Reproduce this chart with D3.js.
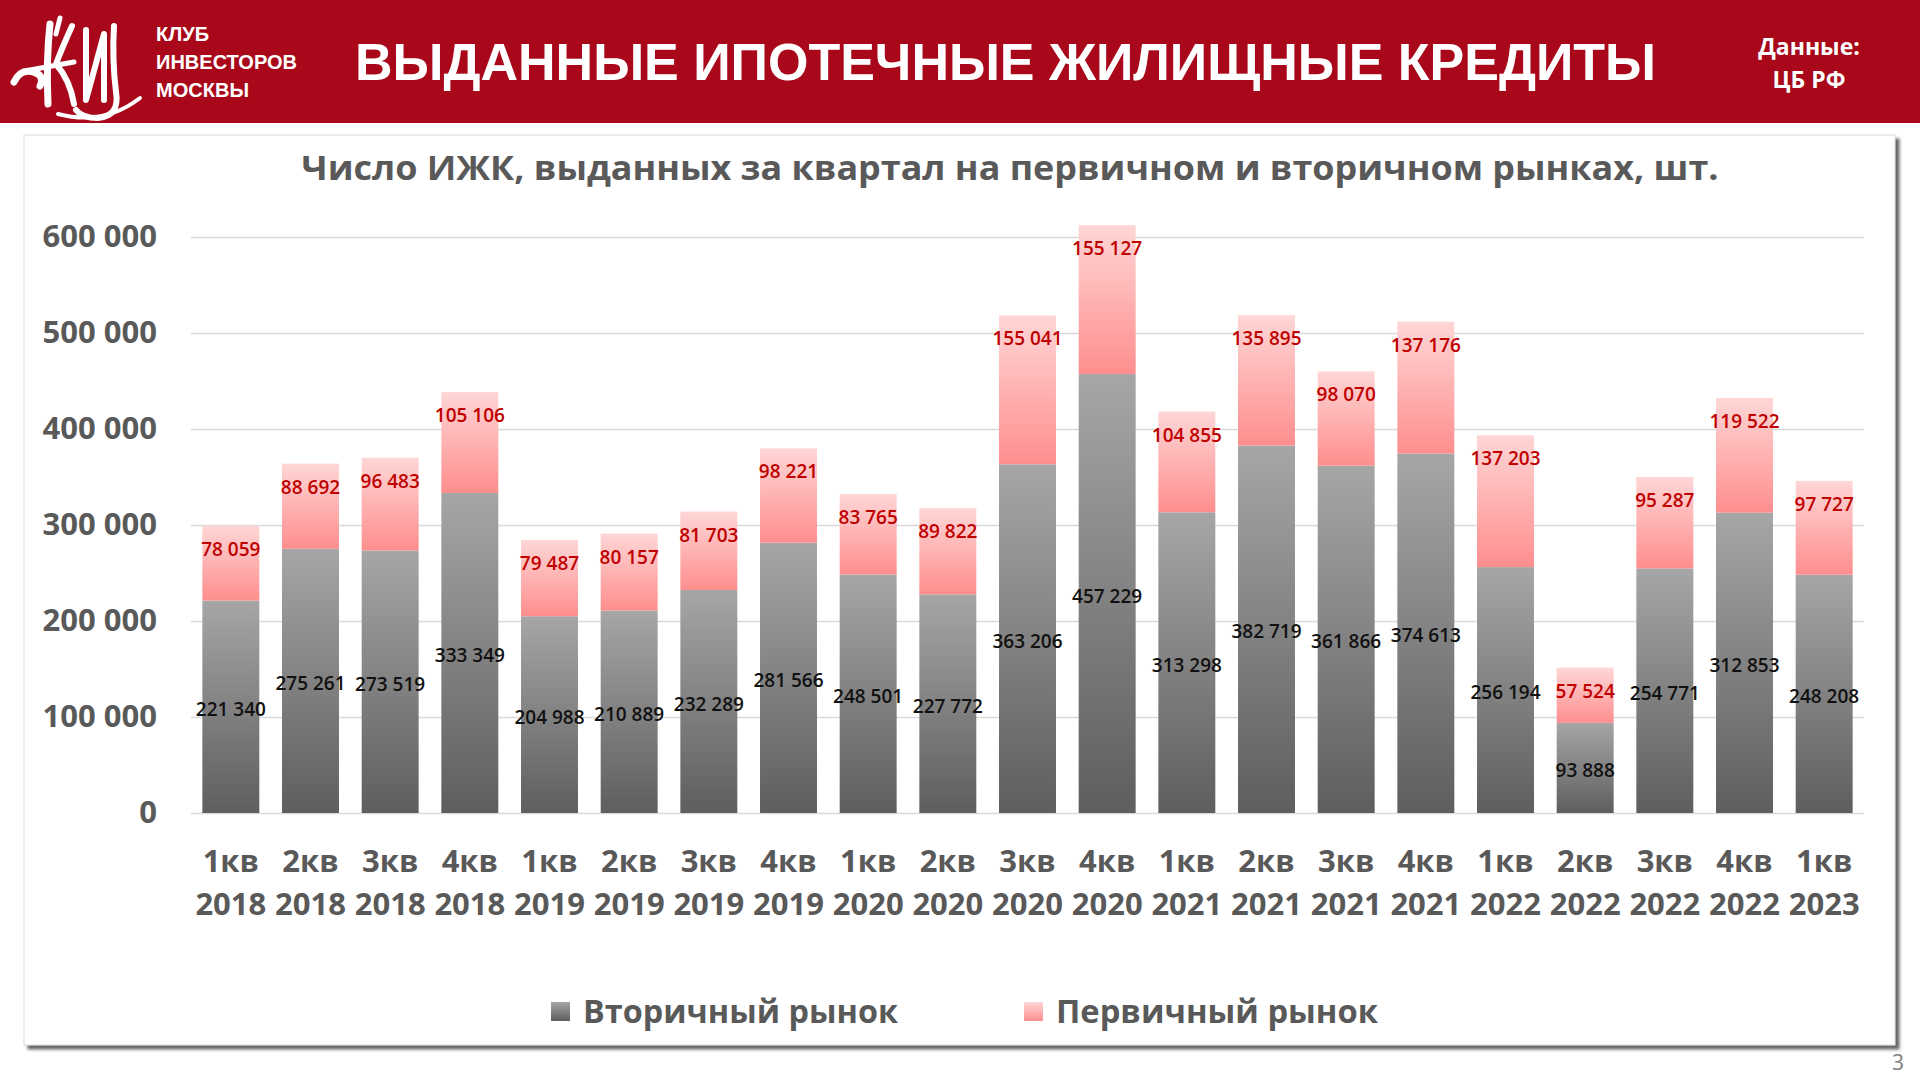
<!DOCTYPE html>
<html><head><meta charset="utf-8">
<script src="https://cdn.jsdelivr.net/npm/d3@7"></script>
<style>
html,body{margin:0;padding:0;background:#fff;}
svg{display:block;}
</style></head>
<body>
<svg id="c" width="1920" height="1080"></svg>
<script>
const quarters = ["1кв","2кв","3кв","4кв","1кв","2кв","3кв","4кв","1кв","2кв","3кв","4кв","1кв","2кв","3кв","4кв","1кв","2кв","3кв","4кв","1кв"];
const years = ["2018","2018","2018","2018","2019","2019","2019","2019","2020","2020","2020","2020","2021","2021","2021","2021","2022","2022","2022","2022","2023"];
const secondary = [221340,275261,273519,333349,204988,210889,232289,281566,248501,227772,363206,457229,313298,382719,361866,374613,256194,93888,254771,312853,248208];
const primary = [78059,88692,96483,105106,79487,80157,81703,98221,83765,89822,155041,155127,104855,135895,98070,137176,137203,57524,95287,119522,97727];
const yTicks = [0,100000,200000,300000,400000,500000,600000];
const seriesNames = ["Вторичный рынок","Первичный рынок"];
const headerTitle = "ВЫДАННЫЕ ИПОТЕЧНЫЕ ЖИЛИЩНЫЕ КРЕДИТЫ";
const chartTitle = "Число ИЖК, выданных за квартал на первичном и вторичном рынках, шт.";
const clubLines = ["КЛУБ","ИНВЕСТОРОВ","МОСКВЫ"];
const sourceLines = ["Данные:","ЦБ РФ"];

const svg = d3.select("#c");
const defs = svg.append("defs");
const gGrey = defs.append("linearGradient").attr("id","gGrey").attr("x1",0).attr("y1",0).attr("x2",0).attr("y2",1);
gGrey.append("stop").attr("offset","0%").attr("stop-color","#a6a6a6");
gGrey.append("stop").attr("offset","100%").attr("stop-color","#5e5e5e");
const gPink = defs.append("linearGradient").attr("id","gPink").attr("x1",0).attr("y1",0).attr("x2",0).attr("y2",1);
gPink.append("stop").attr("offset","0%").attr("stop-color","#ffd6d6");
gPink.append("stop").attr("offset","100%").attr("stop-color","#ff8e8e");
const sh = defs.append("filter").attr("id","shadow").attr("x","-5%").attr("y","-5%").attr("width","110%").attr("height","110%");
sh.append("feDropShadow").attr("dx",4).attr("dy",4).attr("stdDeviation",1.5).attr("flood-color","#555").attr("flood-opacity",0.9);

// header
svg.append("rect").attr("x",0).attr("y",0).attr("width",1920).attr("height",123).attr("fill","#a8081a");
// logo: stylised calligraphic monogram drawn with strokes
const logo = svg.append("g").attr("fill","none").attr("stroke","#fff").attr("stroke-linecap","round").attr("stroke-linejoin","round");
const logoStrokes = [
  ["M14 82 Q22 66 38 74 Q44 78 40 86",7],
  ["M50 24 Q46 60 48 104",7],
  ["M30 70 L74 62",5],
  ["M72 26 Q62 48 56 64 Q70 80 74 104",6],
  ["M86 30 L86 100 L104 34 L104 100",6],
  ["M114 26 Q112 60 116 92 Q120 116 98 118 Q82 118 76 110",6],
  ["M58 114 Q104 126 140 98",4],
  ["M60 18 L56 34",5]
];
logo.selectAll("path").data(logoStrokes).join("path").attr("d",d=>d[0]).attr("stroke-width",d=>d[1]);

svg.append("g").selectAll("text").data(clubLines).join("text")
  .attr("x",156).attr("y",(d,i)=>41+i*28)
  .attr("font-family","'Liberation Sans Narrow','Arial Narrow','Liberation Sans',sans-serif").attr("font-weight","bold")
  .attr("font-size",21).attr("fill","#fff")
  .attr("textLength",(d,i)=>[53,141,93][i]).attr("lengthAdjust","spacingAndGlyphs").text(d=>d);

// header title: fit font size so its natural width spans 355..1656
const ht = svg.append("text").attr("x",355).attr("y",80).attr("font-family","'Liberation Sans',Arial,sans-serif").attr("font-weight","bold")
  .attr("font-size",58).attr("fill","#fff").text(headerTitle);
const htw = ht.node().getComputedTextLength();
ht.attr("font-size", Math.min(60, 58*1301/htw));

svg.append("g").selectAll("text").data(sourceLines).join("text")
  .attr("x",1809).attr("y",(d,i)=>55+i*33).attr("text-anchor","middle")
  .attr("font-family","'Open Sans',sans-serif").attr("font-weight","bold").attr("font-size",23).attr("fill","#fff").text(d=>d);

// panel
svg.append("rect").attr("x",24).attr("y",135).attr("width",1871).attr("height",910)
  .attr("fill","#fff").attr("stroke","#d9d9d9").attr("stroke-width",1).attr("filter","url(#shadow)");

svg.append("text").attr("x",1010).attr("y",180).attr("text-anchor","middle")
  .attr("font-family","'Open Sans',sans-serif").attr("font-weight","bold").attr("font-size",34).attr("fill","#595959")
  .attr("textLength",1417).attr("lengthAdjust","spacingAndGlyphs").text(chartTitle);

// scales
const x = d3.scaleBand().domain(d3.range(quarters.length)).range([191,1864]).paddingInner(0.285).paddingOuter(0.1425);
const y = d3.scaleLinear().domain([0,600000]).range([813,237]);
const fmt = v => d3.format(",")(v).replace(/,/g," ");

const yAxis = svg.append("g").attr("transform","translate(191,0)")
  .call(d3.axisLeft(y).tickValues(yTicks).tickSize(-(1864-191)).tickPadding(34).tickFormat(fmt));
yAxis.select(".domain").remove();
yAxis.selectAll("line").attr("stroke","#d9d9d9").attr("stroke-width",1.5);
yAxis.selectAll("text").attr("font-family","'Open Sans',sans-serif").attr("font-weight","bold").attr("font-size",31).attr("fill","#595959");

const xAxis = svg.append("g").attr("transform","translate(0,813)")
  .call(d3.axisBottom(x).tickSize(0).tickFormat(i=>quarters[i]));
xAxis.select(".domain").remove();
xAxis.selectAll("text").each(function(i){
  const t = d3.select(this);
  t.text(null).attr("y",0).attr("dy",null)
   .attr("font-family","'Open Sans',sans-serif").attr("font-weight","bold").attr("font-size",31).attr("fill","#595959");
  t.append("tspan").attr("x",0).attr("y",59).text(quarters[i]);
  t.append("tspan").attr("x",0).attr("y",102).text(years[i]);
});

// bars
const bars = svg.append("g");
bars.selectAll("rect.sec").data(secondary).join("rect").attr("class","sec")
  .attr("x",(d,i)=>x(i)).attr("width",x.bandwidth())
  .attr("y",d=>y(d)).attr("height",d=>y(0)-y(d)).attr("fill","url(#gGrey)");
bars.selectAll("rect.pri").data(primary).join("rect").attr("class","pri")
  .attr("x",(d,i)=>x(i)).attr("width",x.bandwidth())
  .attr("y",(d,i)=>y(d+secondary[i])).attr("height",(d,i)=>y(secondary[i])-y(d+secondary[i])).attr("fill","url(#gPink)");

const lab = svg.append("g").attr("font-family","'Open Sans',sans-serif").attr("font-weight",600).attr("font-size",19).attr("text-anchor","middle");
lab.selectAll("text.sec").data(secondary).join("text").attr("class","sec")
  .attr("x",(d,i)=>x(i)+x.bandwidth()/2).attr("y",d=>(y(d)+y(0))/2+9)
  .attr("fill","#111").text(fmt);
lab.selectAll("text.pri").data(primary).join("text").attr("class","pri")
  .attr("x",(d,i)=>x(i)+x.bandwidth()/2).attr("y",(d,i)=>y(d+secondary[i])+30)
  .attr("fill","#c00000").text(fmt);

// legend
const legend = svg.append("g");
const legItems = [{name:seriesNames[0],fill:"url(#gGrey)",sx:551,tx:583,tl:315},{name:seriesNames[1],fill:"url(#gPink)",sx:1024,tx:1056,tl:322}];
legItems.forEach(it=>{
  legend.append("rect").attr("x",it.sx).attr("y",1002).attr("width",19).attr("height",19).attr("fill",it.fill);
  legend.append("text").attr("x",it.tx).attr("y",1023).attr("font-family","'Open Sans',sans-serif").attr("font-weight","bold")
    .attr("font-size",32).attr("fill","#595959").attr("textLength",it.tl).attr("lengthAdjust","spacingAndGlyphs").text(it.name);
});

svg.append("text").attr("x",1898).attr("y",1070).attr("text-anchor","middle").attr("font-family","'Open Sans',sans-serif")
  .attr("font-size",21).attr("fill","#808080").text("3");
</script>
</body></html>
